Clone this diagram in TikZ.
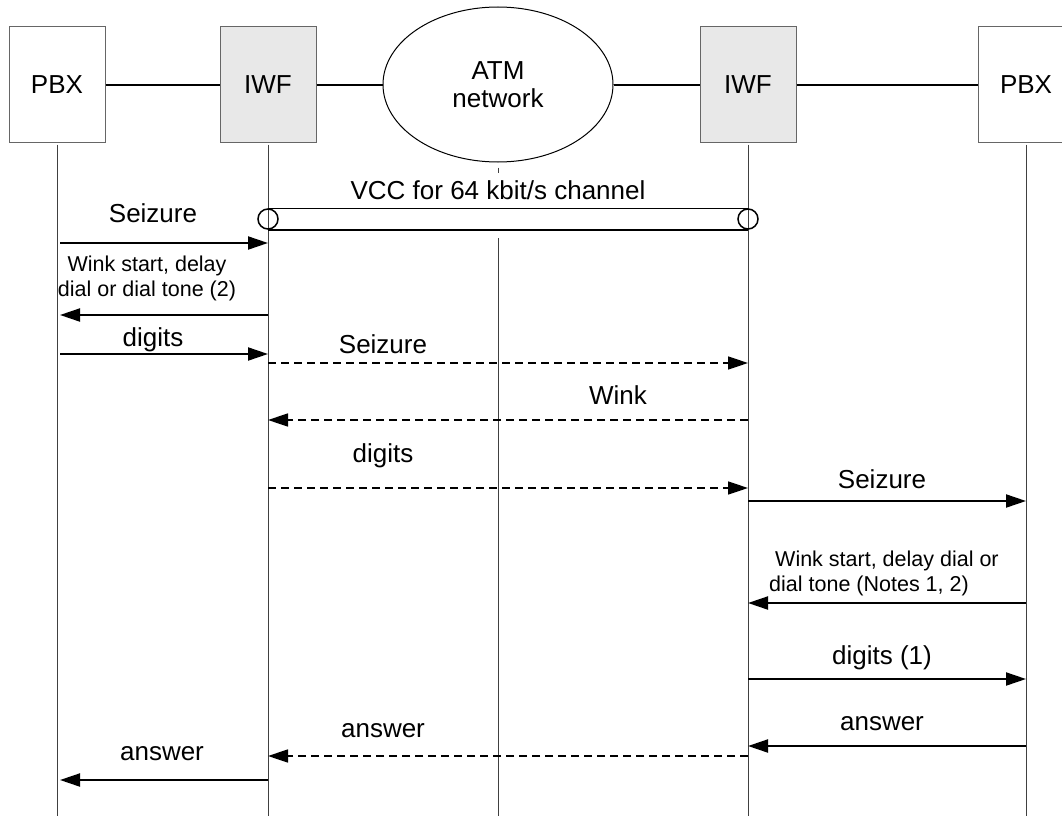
\documentclass[tikz,border=0pt]{standalone}
\usepackage{fontspec}
\setmainfont{Liberation Sans}
\usetikzlibrary{arrows.meta}
\usetikzlibrary{shapes.geometric}

\tikzset{
  unit/.style={draw=black!60, line width=1pt, minimum width=96pt, minimum height=115pt, inner sep=0pt, font=\fontsize{26}{30}\selectfont},
  iwf/.style={unit, fill=black!9},
  msg/.style={line width=2pt, -{Triangle[length=20pt,width=13pt]}},
  vmsg/.style={msg, line width=1.6pt, dash pattern=on 8pt off 5pt},
  lbl/.style={font=\fontsize{26}{30}\selectfont, inner sep=0pt},
  note/.style={font=\fontsize{21.5}{25}\selectfont, inner sep=0pt},
  life/.style={line width=1pt, black!75}
}

\begin{document}
\begin{tikzpicture}[x=1pt, y=-1pt]
\useasboundingbox (0,0) rectangle (1062,816);

% entities
\node[unit] (pbxA) at (57,84.5) {PBX};
\node[iwf]  (iwfA) at (268,84.5) {IWF};
\node[ellipse, draw, line width=1pt, minimum width=230pt, minimum height=155pt, inner sep=0pt, align=center, font=\fontsize{26}{28}\selectfont] (atm) at (498,84.5) {ATM\\network};
\node[iwf]  (iwfB) at (748,84.5) {IWF};
\node[unit] (pbxB) at (1026,84.5) {PBX};

\draw[line width=2pt] (pbxA) -- (iwfA) -- (atm) -- (iwfB) -- (pbxB);

% lifelines
\foreach \n in {pbxA, iwfA, iwfB, pbxB} \draw[life] ([yshift=-2pt]\n.south) -- (\n.south |- 0,816);
\draw[life] ([yshift=-5pt]atm.south) -- ++(0,5);
\coordinate (core) at (atm.south |- 0,238);
\draw[life] (core) -- (core |- 0,816);

% message end points
\coordinate (lA) at ([xshift=3pt]pbxA.south);
\coordinate (lB) at (iwfA.south);
\coordinate (lC) at (iwfB.south);
\coordinate (lD) at (pbxB.south);

% VCC
\node[circle, draw, line width=1.5pt, minimum size=20pt, inner sep=0pt] (vccA) at (lB |- 0,219) {};
\node[circle, draw, line width=1.5pt, minimum size=20pt, inner sep=0pt] (vccB) at (lC |- 0,219) {};
\draw[line width=1.2pt] (vccA.north) -- (vccB.north);
\draw[line width=2pt] (vccA.south) -- (vccB.south);
\node[lbl] (vcc) at (498,190) {VCC for 64 kbit/s channel};

% messages
\foreach \y/\a/\b/\s in {243/lA/lB/msg, 315/lB/lA/msg, 354/lA/lB/msg, 363/lB/lC/vmsg, 420/lC/lB/vmsg, 488/lB/lC/vmsg, 501/lC/lD/msg, 603/lD/lC/msg, 679/lC/lD/msg, 746/lD/lC/msg, 756/lC/lB/vmsg, 780/lB/lA/msg}
  \draw[\s] (\a |- 0,\y) -- (\b |- 0,\y);

\foreach \x/\y/\t [count=\i] in {153/213/Seizure, 153/340/digits, 383/344/Seizure, 618/395/Wink, 383/456/digits, 882/479/Seizure, 882/658/digits (1), 882/724/answer, 383/731/answer, 162/754/answer}
  \node[lbl] (m\i) at (\x,\y) {\t};

\node[note, align=center] (winkA) at (147,278) {Wink start, delay\\dial or dial tone (2)};
\node[note, align=left, anchor=west] (winkB) at (769,573) {\hspace{6pt}Wink start, delay dial or\\dial tone (Notes 1, 2)};

\end{tikzpicture}
\end{document}
